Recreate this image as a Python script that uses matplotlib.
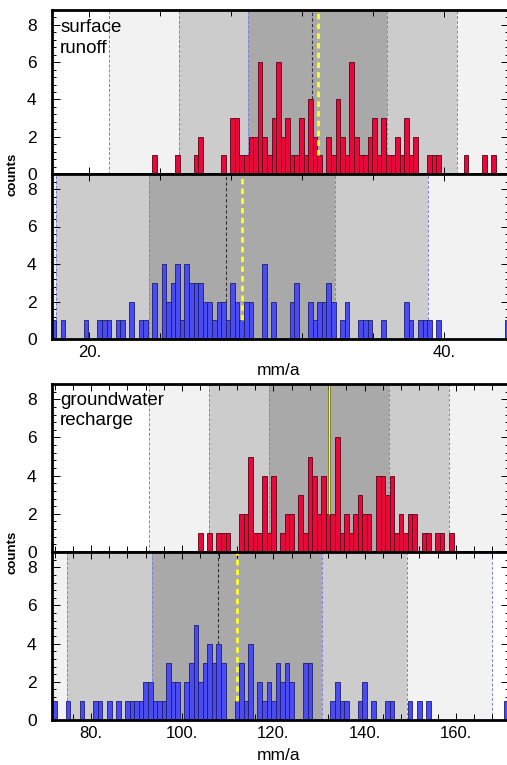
import numpy as np
import matplotlib.pyplot as plt
from matplotlib.ticker import MultipleLocator, FixedLocator

plt.rcParams['font.family'] = ['Liberation Sans', 'DejaVu Sans']

# ---- data: histogram counts per bin ----
# surface runoff [mm/a]
runoff_red_start = 23.56
runoff_blue_start = 17.88
runoff_binw = 0.258
runoff_red = [1, 0, 0, 0, 0, 1, 0, 0, 0, 1, 2, 0, 0, 0, 0, 1, 0, 3, 3, 1,
              1, 2, 2, 6, 2, 1, 3, 6, 2, 3, 1, 1, 3, 1, 4, 2, 1, 0, 2, 1,
              4, 2, 1, 6, 2, 1, 1, 2, 3, 1, 3, 1, 1, 2, 1, 3, 1, 2, 0, 0,
              1, 1, 1, 0, 0, 0, 0, 0, 1, 0, 0, 0, 1, 0, 1]
runoff_blue = [1, 0, 1, 0, 0, 0, 0, 1, 0, 0, 1, 1, 1, 0, 1, 1, 0, 2, 0, 1,
               1, 0, 3, 0, 4, 2, 3, 4, 1, 4, 3, 3, 3, 2, 2, 1, 2, 2, 1, 3,
               2, 1, 2, 2, 0, 0, 4, 0, 2, 0, 0, 0, 2, 3, 0, 0, 2, 1, 2, 2,
               3, 2, 0, 1, 2, 0, 0, 1, 1, 1, 0, 0, 1, 0, 0, 0, 0, 2, 1, 0,
               1, 1, 1, 0, 1, 0, 0, 0, 0, 0, 0, 0, 0, 0, 0, 0, 0, 0, 0, 1]

# groundwater recharge [mm/a]
recharge_red_start = 103.5
recharge_blue_start = 71.5
recharge_binw = 1.0
recharge_red = [1, 0, 1, 0, 1, 1, 1, 0, 0, 2, 2, 5, 1, 1, 4, 1, 4, 0, 1, 2,
                2, 0, 3, 1, 5, 4, 2, 4, 2, 2, 6, 1, 2, 1, 2, 3, 2, 2, 0, 4,
                4, 3, 4, 1, 2, 1, 2, 2, 0, 1, 1, 0, 1, 1, 0, 1]
recharge_blue = [1, 0, 0, 1, 0, 0, 1, 0, 0, 1, 1, 0, 1, 0, 1, 0, 1, 1, 1, 1,
                 2, 2, 1, 1, 1, 3, 2, 2, 0, 2, 3, 5, 2, 3, 4, 3, 4, 3, 0, 0,
                 1, 3, 1, 4, 0, 2, 1, 2, 1, 3, 2, 3, 2, 0, 0, 3, 3, 0, 0, 0,
                 0, 1, 2, 1, 1, 0, 0, 1, 2, 0, 1, 0, 0, 1, 1, 0, 0, 0, 1, 0,
                 1, 0, 1, 0, 0, 0, 0, 0, 0, 0, 0, 0, 0, 0, 0, 0, 0, 0, 0, 1]

# mean, std, median and where the marker lines stop
runoff_red_stats = dict(mean=32.88, sd=3.92, median=32.55, mean_y=1, med_y=4)
runoff_blue_stats = dict(mean=28.60, sd=5.24, median=27.70, mean_y=1, med_y=2)
recharge_red_stats = dict(mean=132.2, sd=13.16, median=132.1, mean_y=2, med_y=2)
recharge_blue_stats = dict(mean=111.95, sd=18.64, median=107.85, mean_y=1, med_y=4)

# ---- drawing ----
W, H = 507, 765
fig = plt.figure(figsize=(W / 100, H / 100), dpi=100)

RED, RED_EDGE = '#e8083c', '#5a0014'
BLUE, BLUE_EDGE = '#4b4bf2', '#1c1c70'
BANDS = ['#f2f2f2', '#cccccc', '#a9a9a9']


def px_axes(top, bottom):
    left, right = 52, 509
    return fig.add_axes([left / W, 1 - bottom / H, (right - left) / W, (bottom - top) / H])


def panel(ax, start, binw, counts, stats, color, edge, xlim, mean_dashed=True):
    m, s = stats['mean'], stats['sd']
    # sigma bands
    ax.axvspan(xlim[0] - 100, xlim[1] + 100, color='white', zorder=0)
    for k, c in zip([3, 2, 1], BANDS):
        ax.axvspan(m - k * s, m + k * s, color=c, lw=0, zorder=0)
    for k in [1, 2, 3]:
        for sgn in [-1, 1]:
            ax.axvline(m + sgn * k * s, color='#7c7ce6', lw=0.7, ls=(0, (3, 2)), zorder=1)
    # bars
    counts = np.array(counts)
    lefts = start + np.arange(len(counts)) * binw
    keep = counts > 0
    ax.bar(lefts[keep], counts[keep], width=binw, align='edge', color=color,
           edgecolor=edge, linewidth=0.6, zorder=2)
    # median / mean lines
    ylim = 8.8
    ax.vlines(stats['median'], stats['med_y'], ylim, color='#333333', lw=0.8,
              ls=(0, (3, 2)), zorder=3)
    if mean_dashed:
        ax.vlines(m, stats['mean_y'], ylim, color='#ffff22', lw=2.0,
                  ls=(0, (2, 1.5)), zorder=4)
    else:
        ax.vlines(m, stats['mean_y'], ylim, color='#555500', lw=1.8, zorder=4)
        ax.vlines(m, stats['mean_y'], ylim, color='#ffff33', lw=1.0, zorder=5)
    ax.set_xlim(*xlim)
    ax.set_ylim(0, ylim)
    ax.yaxis.set_major_locator(FixedLocator([0, 2, 4, 6, 8]))
    ax.yaxis.set_minor_locator(MultipleLocator(0.4))
    ax.tick_params(axis='both', which='both', direction='in', top=True, right=True,
                   labelsize=12.5, width=0.7)
    ax.tick_params(axis='y', which='major', length=6, pad=11)
    ax.tick_params(axis='y', which='minor', length=3)
    ax.tick_params(axis='x', which='major', length=5, pad=4, labelsize=12)
    ax.tick_params(axis='x', which='minor', length=4)
    for sp in ax.spines.values():
        sp.set_linewidth(2.0)
        sp.set_zorder(6)


runoff_xlim = (17.90, 17.90 + (509 - 52) / 17.75)
recharge_xlim = (71.45, 71.45 + (509 - 52) / 4.56)

ax1 = px_axes(10, 174)
panel(ax1, runoff_red_start, runoff_binw, runoff_red, runoff_red_stats, RED, RED_EDGE, runoff_xlim)
ax2 = px_axes(174, 339)
panel(ax2, runoff_blue_start, runoff_binw, runoff_blue, runoff_blue_stats, BLUE, BLUE_EDGE, runoff_xlim)
ax3 = px_axes(384, 552)
panel(ax3, recharge_red_start, recharge_binw, recharge_red, recharge_red_stats, RED, RED_EDGE,
      recharge_xlim, mean_dashed=False)
ax4 = px_axes(552, 720)
panel(ax4, recharge_blue_start, recharge_binw, recharge_blue, recharge_blue_stats, BLUE, BLUE_EDGE,
      recharge_xlim)

for ax in [ax1, ax2]:
    ax.xaxis.set_major_locator(FixedLocator([20, 40]))
    ax.xaxis.set_minor_locator(FixedLocator(np.arange(20, 44, 4)))
    ax.set_xticklabels(['20.', '40.'])
for ax in [ax3, ax4]:
    ax.xaxis.set_major_locator(FixedLocator([80, 100, 120, 140, 160]))
    ax.xaxis.set_minor_locator(FixedLocator(np.arange(72, 172, 4)))
    ax.set_xticklabels(['80.', '100.', '120.', '140.', '160.'])
for ax in [ax1, ax3]:
    ax.tick_params(axis='x', labelbottom=False)

ax1.text(0.018, 0.945, 'surface\nrunoff', transform=ax1.transAxes, va='top', ha='left',
         fontsize=13.5, linespacing=1.3, zorder=7)
ax3.text(0.018, 0.955, 'groundwater\nrecharge', transform=ax3.transAxes, va='top', ha='left',
         fontsize=13.5, linespacing=1.3, zorder=7)

fig.text(279 / W, 1 - 370 / H, 'mm/a', ha='center', va='center', fontsize=12.5)
fig.text(279 / W, 1 - 755 / H, 'mm/a', ha='center', va='center', fontsize=12.5)
fig.text(12 / W, 1 - 174 / H, 'counts', rotation=90, ha='center', va='center',
         fontsize=9.5, fontweight='bold')
fig.text(12 / W, 1 - 552 / H, 'counts', rotation=90, ha='center', va='center',
         fontsize=9.5, fontweight='bold')

fig.savefig('out.png', dpi=100)
